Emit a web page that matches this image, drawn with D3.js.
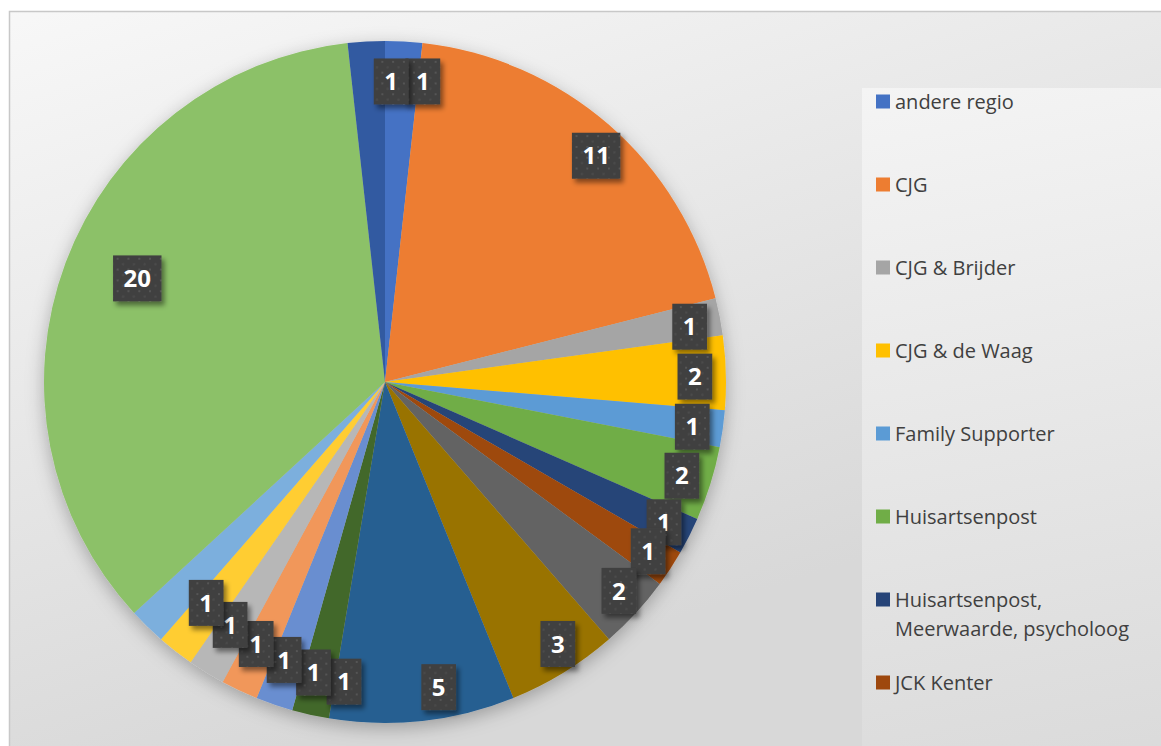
<!DOCTYPE html>
<html>
<head>
<meta charset="utf-8">
<script src="https://cdn.jsdelivr.net/npm/d3@7"></script>
<style>
  body { margin: 0; background: #fff; }
</style>
</head>
<body>
<script>
// slices clockwise from 12 o'clock; only the first 8 names fit in the visible legend
const categories = [
  "andere regio",
  "CJG",
  "CJG & Brijder",
  "CJG & de Waag",
  "Family Supporter",
  "Huisartsenpost",
  "Huisartsenpost, Meerwaarde, psycholoog",
  "JCK Kenter",
  "categorie 9",
  "categorie 10",
  "categorie 11",
  "categorie 12",
  "categorie 13",
  "categorie 14",
  "categorie 15",
  "categorie 16",
  "categorie 17",
  "categorie 18",
  "categorie 19",
];
const values = [1, 11, 1, 2, 1, 2, 1, 1, 2, 3, 5, 1, 1, 1, 1, 1, 1, 20, 1];
const colors = [
  "#4472c4", "#ed7d31", "#a5a5a5", "#ffc000", "#5b9bd5", "#70ad47",
  "#264478", "#9e480e", "#636363", "#997300", "#255e91", "#43682b",
  "#698ed0", "#f1975a", "#b7b7b7", "#ffcd33", "#7cafdd", "#8cc168",
  "#335aa1",
];

const data = categories.map((name, i) => ({ name, value: values[i], color: colors[i] }));

const width = 1161;
const height = 746;
const cx = 385;
const cy = 382;
const radius = 341;

// labels sit on an ellipse whose centre is a little right of the pie centre
const labelCx = 407;
const labelCy = 385;
const labelRx = 288;
const labelRy = 304;

const svg = d3
  .select("body")
  .append("svg")
  .attr("width", width)
  .attr("height", height)
  .style("display", "block");

const defs = svg.append("defs");

const bgGrad = defs
  .append("linearGradient")
  .attr("id", "bg")
  .attr("gradientUnits", "userSpaceOnUse")
  .attr("x1", 0)
  .attr("y1", 0)
  .attr("x2", 250)
  .attr("y2", 760);
bgGrad.append("stop").attr("offset", 0).attr("stop-color", "#f8f8f8");
bgGrad.append("stop").attr("offset", 1).attr("stop-color", "#d8d8d8");

const legendGrad = defs
  .append("linearGradient")
  .attr("id", "legendBg")
  .attr("gradientUnits", "userSpaceOnUse")
  .attr("x1", 862)
  .attr("y1", 88)
  .attr("x2", 1000)
  .attr("y2", 800);
legendGrad.append("stop").attr("offset", 0).attr("stop-color", "#f4f4f4");
legendGrad.append("stop").attr("offset", 1).attr("stop-color", "#dadada");

const pieShadow = defs
  .append("filter")
  .attr("id", "pieShadow")
  .attr("x", "-20%")
  .attr("y", "-20%")
  .attr("width", "140%")
  .attr("height", "140%");
pieShadow
  .append("feDropShadow")
  .attr("dx", 0)
  .attr("dy", 5)
  .attr("stdDeviation", 9)
  .attr("flood-color", "#000")
  .attr("flood-opacity", 0.28);

const labelShadow = defs
  .append("filter")
  .attr("id", "labelShadow")
  .attr("x", "-30%")
  .attr("y", "-30%")
  .attr("width", "170%")
  .attr("height", "170%");
labelShadow
  .append("feDropShadow")
  .attr("dx", 3)
  .attr("dy", 4)
  .attr("stdDeviation", 2.5)
  .attr("flood-color", "#000")
  .attr("flood-opacity", 0.45);

const dots = defs
  .append("pattern")
  .attr("id", "dots")
  .attr("patternUnits", "userSpaceOnUse")
  .attr("width", 10.8)
  .attr("height", 10.8);
dots.append("rect").attr("width", 10.8).attr("height", 10.8).attr("fill", "#404040");
dots.append("rect").attr("x", 1).attr("y", 1).attr("width", 2).attr("height", 2).attr("fill", "#555555");
dots.append("rect").attr("x", 6.4).attr("y", 6.4).attr("width", 2).attr("height", 2).attr("fill", "#4d4d4d");

// chart area
svg
  .append("rect")
  .attr("x", 9.5)
  .attr("y", 11.5)
  .attr("width", width)
  .attr("height", height)
  .attr("fill", "url(#bg)")
  .attr("stroke", "#c8c8c8")
  .attr("stroke-width", 1.5);

// legend box
svg
  .append("rect")
  .attr("x", 862)
  .attr("y", 88)
  .attr("width", 320)
  .attr("height", 700)
  .attr("fill", "url(#legendBg)");

const pie = d3
  .pie()
  .sort(null)
  .value((d) => d.value);

const arc = d3.arc().innerRadius(0).outerRadius(radius);

const arcs = pie(data);

const pieGroup = svg
  .append("g")
  .attr("transform", `translate(${cx} ${cy})`)
  .attr("filter", "url(#pieShadow)");

pieGroup
  .selectAll("path")
  .data(arcs)
  .enter()
  .append("path")
  .attr("d", arc)
  .attr("fill", (d) => d.data.color);

// data labels
const labelGroup = svg.append("g");

const labels = labelGroup
  .selectAll("g")
  .data(arcs)
  .enter()
  .append("g")
  .attr("transform", (d) => {
    const a = (d.startAngle + d.endAngle) / 2;
    const x = labelCx + labelRx * Math.sin(a);
    const y = labelCy - labelRy * Math.cos(a);
    return `translate(${x} ${y})`;
  });

labels.append("rect").attr("fill", "url(#dots)").attr("filter", "url(#labelShadow)");

const labelText = labels
  .append("text")
  .attr("text-anchor", "middle")
  .attr("dy", "0.36em")
  .attr("font-family", "'Open Sans', sans-serif")
  .attr("font-weight", "700")
  .attr("font-size", 24)
  .attr("fill", "#ffffff")
  .text((d) => d.data.value);

labelText.each(function () {
  const w = this.getComputedTextLength() + 21;
  const h = 46;
  d3.select(this.parentNode)
    .select("rect")
    .attr("x", -w / 2)
    .attr("y", -h / 2)
    .attr("width", w)
    .attr("height", h);
});

// legend (the chart is cropped, so only entries that fit are drawn)
const legendX = 876;
const legendY = 101.5;
const legendStep = 83;
const legendWrap = 262;

const legendData = data.filter((d, i) => legendY + i * legendStep < height - 30);

const legendItems = svg
  .append("g")
  .selectAll("g")
  .data(legendData)
  .enter()
  .append("g")
  .attr("transform", (d, i) => `translate(${legendX} ${legendY + i * legendStep})`);

legendItems
  .append("rect")
  .attr("x", 0)
  .attr("y", -7)
  .attr("width", 14)
  .attr("height", 14)
  .attr("fill", (d) => d.color);

legendItems.each(function (d) {
  const text = d3
    .select(this)
    .append("text")
    .attr("x", 19)
    .attr("font-family", "'Open Sans', sans-serif")
    .attr("font-size", 20)
    .attr("fill", "#404040");

  const words = d.name.split(" ");
  let line = [];
  let lineNo = 0;
  let tspan = text.append("tspan").attr("x", 19).attr("y", 0).attr("dy", "0.35em");
  words.forEach((word) => {
    line.push(word);
    tspan.text(line.join(" "));
    if (tspan.node().getComputedTextLength() > legendWrap && line.length > 1) {
      line.pop();
      tspan.text(line.join(" "));
      line = [word];
      lineNo += 1;
      tspan = text
        .append("tspan")
        .attr("x", 19)
        .attr("y", lineNo * 29)
        .attr("dy", "0.35em")
        .text(word);
    }
  });
});
</script>
</body>
</html>
